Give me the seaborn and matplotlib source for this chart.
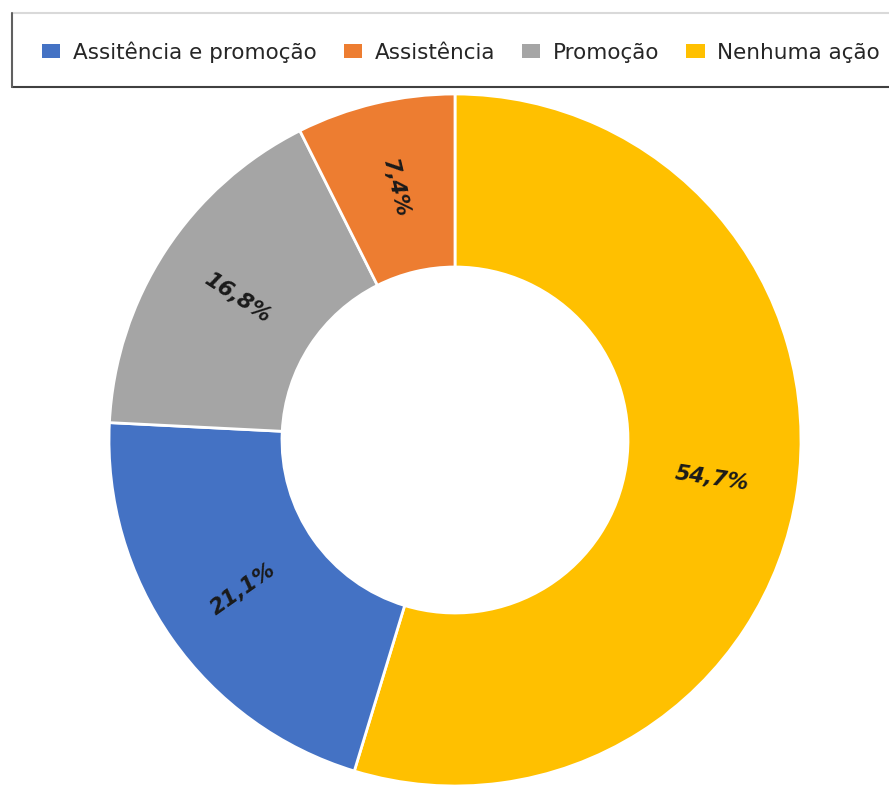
import matplotlib
matplotlib.use("Agg")
import matplotlib.pyplot as plt
import seaborn as sns
import numpy as np
from matplotlib.patches import Patch
from matplotlib.lines import Line2D

# Data (clockwise from 12 o'clock)
categories = ["Nenhuma ação", "Assitência e promoção", "Promoção", "Assistência"]
values = [54.7, 21.1, 16.8, 7.4]
labels_txt = ["54,7%", "21,1%", "16,8%", "7,4%"]
legend_order = ["Assitência e promoção", "Assistência", "Promoção", "Nenhuma ação"]
color_map = {
    "Assitência e promoção": "#4472C4",
    "Assistência": "#ED7D31",
    "Promoção": "#A5A5A5",
    "Nenhuma ação": "#FFC000",
}

sns.set_theme(style="white")
plt.rcParams["font.family"] = ["DejaVu Sans"]

W, H = 889, 791
fig = plt.figure(figsize=(W / 100, H / 100), dpi=100)
fig.patch.set_facecolor("white")

cx, cy, R = 455, 440, 346
ax = fig.add_axes([(cx - R) / W, (H - cy - R) / H, 2 * R / W, 2 * R / H])

colors = [color_map[c] for c in categories]
wedges, _ = ax.pie(
    values,
    colors=colors,
    startangle=90,
    counterclock=False,
    radius=1.0,
    wedgeprops=dict(width=0.5, edgecolor="white", linewidth=2),
)
ax.set_xlim(-1, 1)
ax.set_ylim(-1, 1)
ax.set_aspect("equal")
ax.axis("off")

# radial data labels
for w, txt in zip(wedges, labels_txt):
    mid = (w.theta1 + w.theta2) / 2.0
    r = 0.75
    x = r * np.cos(np.deg2rad(mid))
    y = r * np.sin(np.deg2rad(mid))
    rot = ((mid + 90) % 180) - 90
    ax.text(x, y, txt, ha="center", va="center", rotation=rot,
            rotation_mode="anchor", fontsize=15.5, fontweight="bold",
            fontstyle="italic", color="#1a1a1a")

# legend frame (drawn as lines, right side runs off the figure)
def px(x, y):
    return x / W, 1 - y / H

x0, y0, y1 = 12, 13, 87
fig.add_artist(Line2D([px(x0, y0)[0], 1.0], [px(x0, y0)[1]] * 2, color="#d9d9d9", lw=1.5))
fig.add_artist(Line2D([px(x0, y1)[0], 1.0], [px(x0, y1)[1]] * 2, color="#404040", lw=1.5))
fig.add_artist(Line2D([px(x0, y0)[0]] * 2, [px(x0, y0)[1], px(x0, y1)[1]], color="#606060", lw=1.5))

handles = [Patch(facecolor=color_map[c], edgecolor="none") for c in legend_order]
leg = fig.legend(
    handles, legend_order,
    loc="center left",
    bbox_to_anchor=px(42, 52),
    ncol=4,
    frameon=False,
    fontsize=15.5,
    handlelength=0.84,
    handleheight=0.6,
    handletextpad=0.6,
    columnspacing=1.25,
    borderpad=0.0,
    borderaxespad=0,
    labelcolor="#262626",
)

fig.savefig("out.png", dpi=100, facecolor="white")
